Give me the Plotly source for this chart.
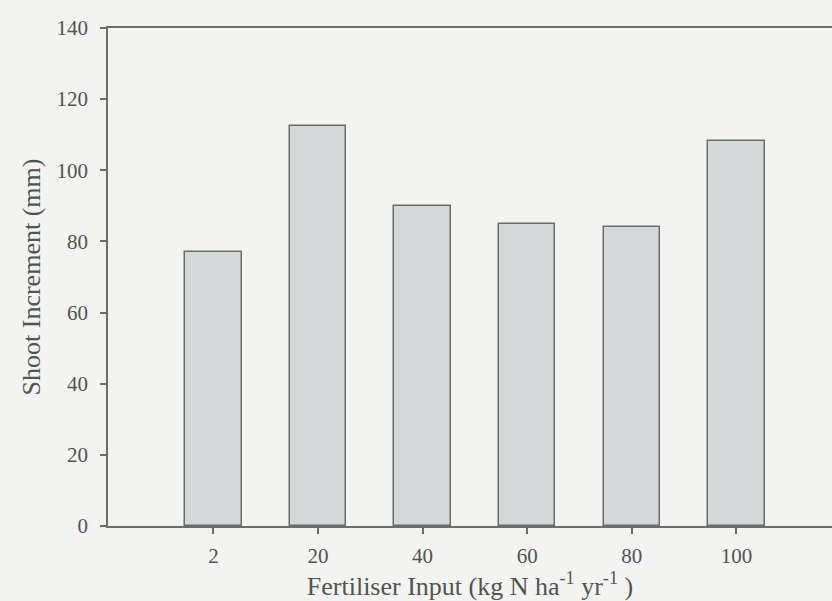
import plotly.graph_objects as go

# Fertiliser input levels (kg N ha-1 yr-1) and mean shoot increment (mm)
fertiliser = ["2", "20", "40", "60", "80", "100"]
shoot_increment = [77, 112.4, 90, 85, 84, 108.2]
y_ticks = [0, 20, 40, 60, 80, 100, 120, 140]

positions = list(range(len(fertiliser)))

fig = go.Figure(
    go.Bar(
        x=positions,
        y=shoot_increment,
        width=0.54,
        marker=dict(color="#d5d8d9", line=dict(color="#6a6d6a", width=1.5)),
    )
)

axis_font = dict(family="Liberation Serif, Times New Roman, serif", size=21, color="#4f5550")
title_font = dict(family="Liberation Serif, Times New Roman, serif", size=26, color="#4f5550")

fig.update_layout(
    width=832,
    height=601,
    margin=dict(l=108, r=0, t=28, b=75),
    paper_bgcolor="#f3f4f2",
    plot_bgcolor="#f3f4f2",
    showlegend=False,
    bargap=0,
)

fig.update_xaxes(
    range=[-1.008, 5.914],
    tickvals=positions,
    ticktext=fertiliser,
    ticks="outside",
    ticklen=6,
    tickwidth=1.5,
    tickcolor="#6a6d6a",
    showline=True,
    linecolor="#6a6d6a",
    linewidth=1.5,
    mirror=True,
    showgrid=False,
    zeroline=False,
    tickfont=axis_font,
    ticklabelstandoff=4,
    title=dict(text="Fertiliser Input (kg N ha<sup>-1</sup> yr<sup>-1</sup> )", font=title_font, standoff=2),
)

fig.update_yaxes(
    range=[0, 140],
    tickvals=y_ticks,
    ticks="outside",
    ticklen=6,
    tickwidth=1.5,
    tickcolor="#6a6d6a",
    showline=True,
    linecolor="#6a6d6a",
    linewidth=1.5,
    showgrid=False,
    zeroline=False,
    tickfont=axis_font,
    ticklabelstandoff=8,
    title=dict(text="Shoot Increment (mm)", font=title_font, standoff=8),
)

fig.write_html("out.html")
